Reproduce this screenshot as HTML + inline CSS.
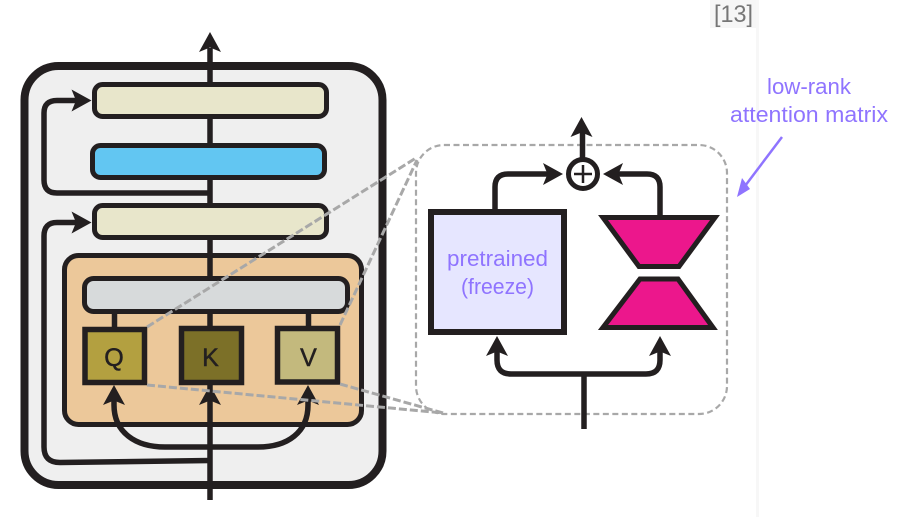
<!DOCTYPE html>
<html><head><meta charset="utf-8"><style>
html,body{margin:0;padding:0;background:#fff}
svg{display:block}
text{font-family:"Liberation Sans",sans-serif}
</style></head><body>
<svg width="904" height="517" viewBox="0 0 904 517" xmlns="http://www.w3.org/2000/svg">
<defs>
<g id="up"><path d="M0 0 L11 20 L0 15.5 L-11 20 Z" fill="#231f20"/></g>
</defs>
<rect x="710" y="0" width="47" height="28" fill="#f6f6f6"/>
<rect x="756" y="0" width="3" height="517" fill="#f7f7f7"/>
<text x="714" y="22" font-size="24" fill="#767676" textLength="39" lengthAdjust="spacingAndGlyphs">[13]</text>

<rect x="24.500" y="66" width="358" height="419" rx="34" fill="#efefef" stroke="#231f20" stroke-width="8"/>
<g fill="none" stroke="#231f20" stroke-width="5.500">
<path d="M210 193 H57 Q44 193 44 180 V113 Q44 100.500 57 100.500 H80"/>
<path d="M210 460.500 L60 462.500 Q44 462.500 44 447 V236 Q44 222.500 57 222.500 H80"/>
</g>
<rect x="64.500" y="255.500" width="297" height="169" rx="14" fill="#ecc89a" stroke="#231f20" stroke-width="5"/>
<g fill="none" stroke="#231f20" stroke-width="5.500">
<path d="M114 400 V405 C114 432 135 447 165 447 H258 C288 447 308 432 308 405 V400"/>
<path d="M114.500 312 V330 M308.500 312 V330"/>
<path d="M210 500 V48"/>
</g>
<use href="#up" transform="translate(210,32)"/>
<rect x="94.500" y="84.500" width="232" height="32" rx="8" fill="#e8e6cb" stroke="#231f20" stroke-width="5"/>
<rect x="92.500" y="145.500" width="232" height="32" rx="8" fill="#62c6f2" stroke="#231f20" stroke-width="5"/>
<rect x="94.500" y="205.500" width="232" height="32" rx="8" fill="#e8e6cb" stroke="#231f20" stroke-width="5"/>
<rect x="84.500" y="278.500" width="263" height="33" rx="9" fill="#d7dadb" stroke="#231f20" stroke-width="5"/>
<use href="#up" transform="translate(91.500,100.500) rotate(90)"/>
<use href="#up" transform="translate(91.500,222.500) rotate(90)"/>
<use href="#up" transform="translate(114,385)"/>
<use href="#up" transform="translate(210,385)"/>
<use href="#up" transform="translate(308,385)"/>
<rect x="85" y="329.500" width="59.500" height="53" fill="#b3a040" stroke="#231f20" stroke-width="5.500"/>
<rect x="181.500" y="328.500" width="60" height="54" fill="#7c7028" stroke="#231f20" stroke-width="5.500"/>
<rect x="277.500" y="328.500" width="60" height="53.500" fill="#c3b97d" stroke="#231f20" stroke-width="5.500"/>
<g font-size="25" fill="#231f20" text-anchor="middle" stroke="#231f20" stroke-width="0.500">
<text x="114" y="366">Q</text>
<text x="210.500" y="366">K</text>
<text x="308.500" y="366">V</text>
</g>

<rect x="416" y="145" width="311" height="269" rx="28" fill="none" stroke="#a8a8a8" stroke-width="2.200" stroke-dasharray="6 3.500"/>
<g fill="none" stroke="#a8a8a8" stroke-width="3" stroke-dasharray="8 3">
<path d="M147 327 L416 158"/>
<path d="M340 325 L417 160"/>
<path d="M147 385 L443 413"/>
<path d="M340 384 L443 413"/>
</g>

<g fill="none" stroke="#231f20" stroke-width="5.500">
<path d="M495 209 V187 Q495 174 508 174 H550"/>
<path d="M660 216 V187 Q660 174 647 174 H615"/>
<path d="M582.500 158 V130"/>
<path d="M584 429 V374 M497 350 V360 Q497 374 511 374 H646 Q660 374 660 360 V350"/>
</g>
<use href="#up" transform="translate(581.500,117)"/>
<use href="#up" transform="translate(563,174) rotate(90)"/>
<use href="#up" transform="translate(603,174) rotate(-90)"/>
<use href="#up" transform="translate(497,336)"/>
<use href="#up" transform="translate(660,336)"/>
<circle cx="583" cy="174" r="14.500" fill="#fff" stroke="#231f20" stroke-width="5"/>
<path d="M574 174 H592 M583 165 V183" stroke="#231f20" stroke-width="2.500" fill="none"/>
<rect x="431" y="212" width="133" height="120" fill="#e6e6ff" stroke="#231f20" stroke-width="6"/>
<polygon points="603,217.500 715,217.500 679,266.500 639,266.500" fill="#ec178c" stroke="#231f20" stroke-width="5"/>
<polygon points="640,279 678,279 713,327.500 603,327.500" fill="#ec178c" stroke="#231f20" stroke-width="5"/>
<g font-size="22" fill="#8f74ff">
<text x="447" y="266" textLength="101" lengthAdjust="spacingAndGlyphs">pretrained</text>
<text x="461" y="294" textLength="73" lengthAdjust="spacingAndGlyphs">(freeze)</text>
<text x="767" y="94" textLength="84" lengthAdjust="spacingAndGlyphs">low-rank</text>
<text x="730" y="122" textLength="158" lengthAdjust="spacingAndGlyphs">attention matrix</text>
</g>
<path d="M782 137 L745 186" stroke="#8f74ff" stroke-width="2.500" fill="none"/>
<polygon points="737,197 742,178 750,189" fill="#8f74ff"/>
</svg>
</body></html>
